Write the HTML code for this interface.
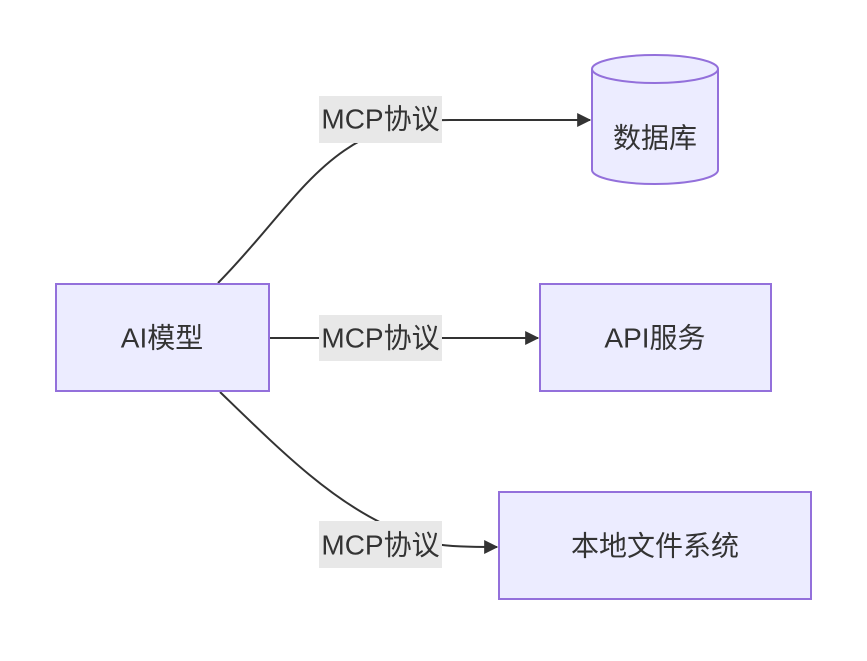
<!DOCTYPE html>
<html><head><meta charset="utf-8"><style>
html,body{margin:0;padding:0;background:#fff;}
text{font-family:"Liberation Sans","Noto Sans CJK SC",sans-serif;font-size:28px;fill:#333;}
</style></head><body>
<svg width="867" height="656" viewBox="0 0 867 656" xmlns="http://www.w3.org/2000/svg">
<defs><marker id="a" viewBox="0 0 10 10" refX="9" refY="5" markerWidth="8" markerHeight="8" markerUnits="userSpaceOnUse" orient="auto"><path d="M0,0 L10,5 L0,10 z" fill="#333"/></marker>
<marker id="b" viewBox="0 0 12 12" refX="11" refY="6" markerWidth="14" markerHeight="14" orient="auto" markerUnits="userSpaceOnUse"><path d="M0,0 L12,6 L0,12 z" fill="#333"/></marker></defs>
<g fill="none" stroke="#333" stroke-width="2">
<path d="M218,283 C300,200 330,120 450,120 L590,120" marker-end="url(#b)"/>
<path d="M269,338 L538,338" marker-end="url(#b)"/>
<path d="M220,392 C280,450 330,500 390,527 C420,545 440,547 497,547" marker-end="url(#b)"/>
</g>
<g fill="#ececff" stroke="#9370db" stroke-width="2">
<rect x="56" y="284" width="213" height="107"/>
<rect x="540" y="284" width="231" height="107"/>
<rect x="499" y="492" width="312" height="107"/>
<path d="M592,69 A63,14 0 0 1 718,69 L718,170 A63,14 0 0 1 592,170 Z"/>
<path d="M592,69 A63,14 0 0 0 718,69" fill="none"/>
</g>
<g fill="#e8e8e8">
<rect x="319" y="96" width="123" height="47"/>
<rect x="319" y="315" width="123" height="46"/>
<rect x="319" y="521" width="123" height="47"/>
</g>
<g text-anchor="middle" dominant-baseline="central">
<text x="380.5" y="119">MCP协议</text>
<text x="380.5" y="338">MCP协议</text>
<text x="380.5" y="545">MCP协议</text>
<text x="162" y="338">AI模型</text>
<text x="655" y="138">数据库</text>
<text x="655" y="338">API服务</text>
<text x="655" y="546">本地文件系统</text>
</g>
</svg>
</body></html>
